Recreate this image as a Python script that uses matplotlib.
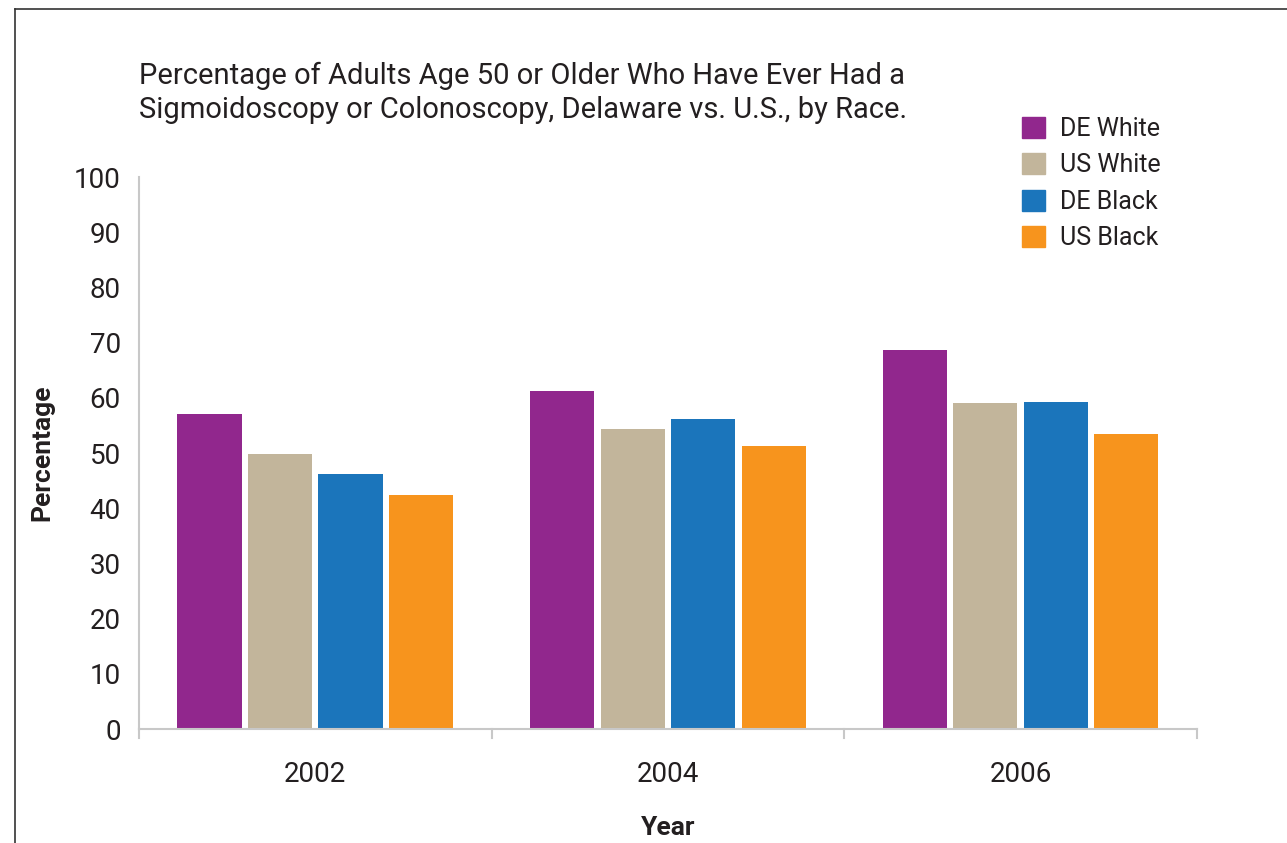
import matplotlib.pyplot as plt
import numpy as np
from matplotlib.lines import Line2D
from matplotlib.patches import Patch

plt.rcParams['font.family'] = ['Roboto', 'DejaVu Sans']

years = ['2002', '2004', '2006']
series = ['DE White', 'US White', 'DE Black', 'US Black']
de_white = [57.0, 61.2, 68.6]
us_white = [49.9, 54.4, 59.0]
de_black = [46.3, 56.1, 59.2]
us_black = [42.5, 51.2, 53.5]
colors = ['#91278d', '#c2b59b', '#1b75bb', '#f7941d']

values = [de_white, us_white, de_black, us_black]

fig = plt.figure(figsize=(12.87, 8.43), dpi=100)
ax = fig.add_axes([0.108, 0.135, 0.822, 0.655])

x = np.arange(len(years))
offsets = [-0.3, -0.1, 0.1, 0.3]
for vals, off, col, name in zip(values, offsets, colors, series):
    ax.bar(x + off, vals, width=0.182, color=col, label=name)

ax.set_xlim(-0.5, 2.5)
ax.set_ylim(0, 100)
ax.set_yticks(range(0, 101, 10))
ax.tick_params(axis='y', length=0, labelsize=20, pad=13, colors='#231f20')
ax.set_xticks(x)
ax.set_xticklabels(years)
ax.tick_params(axis='x', length=0, labelsize=20, pad=23, colors='#231f20')
# separators between year groups on the x axis
for b in [-0.5, 0.5, 1.5, 2.5]:
    ax.plot([b, b], [0, -1.6], color='#c8c8c8', lw=1.5, clip_on=False)

for s in ['top', 'right']:
    ax.spines[s].set_visible(False)
for s in ['left', 'bottom']:
    ax.spines[s].set_color('#c8c8c8')
    ax.spines[s].set_linewidth(1.5)

ax.set_ylabel('Percentage', fontsize=19, fontweight='bold', labelpad=14, color='#231f20')
ax.set_xlabel('Year', fontsize=19, fontweight='bold', labelpad=20, color='#231f20')

fig.text(0.108, 0.890,
         'Percentage of Adults Age 50 or Older Who Have Ever Had a\n'
         'Sigmoidoscopy or Colonoscopy, Delaware vs. U.S., by Race.',
         fontsize=21, color='#231f20', va='center', linespacing=1.25)

handles = [Patch(color=c) for c in colors]
fig.legend(handles, series, loc='upper left', bbox_to_anchor=(0.777, 0.888),
           frameon=False, fontsize=18, handlelength=0.9, handleheight=0.9,
           handletextpad=0.6, labelspacing=0.5, labelcolor='#231f20')

# frame around the figure (top and left edges visible)
fig.add_artist(Line2D([0.0117, 1.0], [0.989, 0.989], color='#333333', lw=1.2))
fig.add_artist(Line2D([0.0117, 0.0117], [0.0, 0.989], color='#333333', lw=1.2))

fig.savefig('out.png', dpi=100)
